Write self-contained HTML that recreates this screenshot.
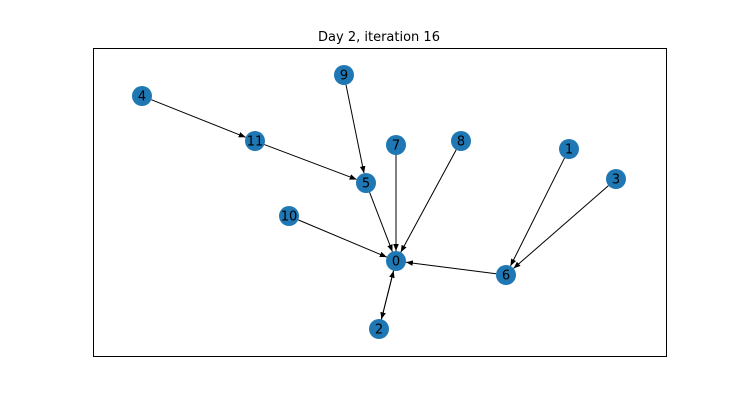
<!DOCTYPE html>
<html><head><meta charset="utf-8"><style>
body{margin:0;background:#fff;}
svg{display:block;font-family:"DejaVu Sans","Liberation Sans",sans-serif;}
</style></head><body>
<svg id="chart" width="740" height="400">
<defs><marker id="ah" viewBox="0 0 10 10" refX="10" refY="5" markerWidth="7" markerHeight="7" orient="auto-start-reverse" markerUnits="userSpaceOnUse"><path d="M0,1 L10,5 L0,9 z" fill="#000"/></marker></defs>
<rect x="0" y="0" width="740" height="400" fill="#fff"/>
<text x="379" y="41" text-anchor="middle" font-size="13" fill="#000">Day 2, iteration 16</text>
<rect x="93.5" y="48.5" width="573" height="308" fill="none" stroke="#000" stroke-width="1"/>
<g id="edges"></g><g id="nodes"></g>
</svg>
<script>
const nodeIds=["0","1","2","3","4","5","6","7","8","9","10","11"];
const nodeX=[303,476,286,523,49,273,413,303,368,251,196,162];
const nodeY=[95,207,27,177,260,173,81,211,215,281,140,215];
const edgeSource=[4,11,9,5,7,8,10,6,1,3,0,2];
const edgeTarget=[11,5,5,0,0,0,0,0,6,6,2,0];
const xScale=v=>93+v;
const yScale=v=>356-v;
const R=10, NS="http://www.w3.org/2000/svg";
const eg=document.getElementById('edges'), ng=document.getElementById('nodes');
for(let i=0;i<edgeSource.length;i++){
 const s=edgeSource[i],t=edgeTarget[i];
 const x1=xScale(nodeX[s]),y1=yScale(nodeY[s]),x2=xScale(nodeX[t]),y2=yScale(nodeY[t]);
 const d=Math.hypot(x2-x1,y2-y1),ux=(x2-x1)/d,uy=(y2-y1)/d;
 const l=document.createElementNS(NS,'line');
 l.setAttribute('x1',x1+ux*R);l.setAttribute('y1',y1+uy*R);
 l.setAttribute('x2',x2-ux*R);l.setAttribute('y2',y2-uy*R);
 l.setAttribute('stroke','#000');l.setAttribute('stroke-width','1');
 l.setAttribute('marker-end','url(#ah)');
 
 
 eg.appendChild(l);
}
for(let i=0;i<nodeIds.length;i++){
 const g=document.createElementNS(NS,'g');
 
 
 const c=document.createElementNS(NS,'circle');
 c.setAttribute('cx',xScale(nodeX[i]));c.setAttribute('cy',yScale(nodeY[i]));c.setAttribute('r',R);c.setAttribute('fill','#1f77b4');
 const tx=document.createElementNS(NS,'text');
 tx.setAttribute('x',xScale(nodeX[i]));tx.setAttribute('y',yScale(nodeY[i])+4.5);
 tx.setAttribute('text-anchor','middle');tx.setAttribute('font-size','13');tx.setAttribute('fill','#000');
 tx.textContent=nodeIds[i];
 g.appendChild(c);g.appendChild(tx);ng.appendChild(g);
}
</script>
</body></html>
